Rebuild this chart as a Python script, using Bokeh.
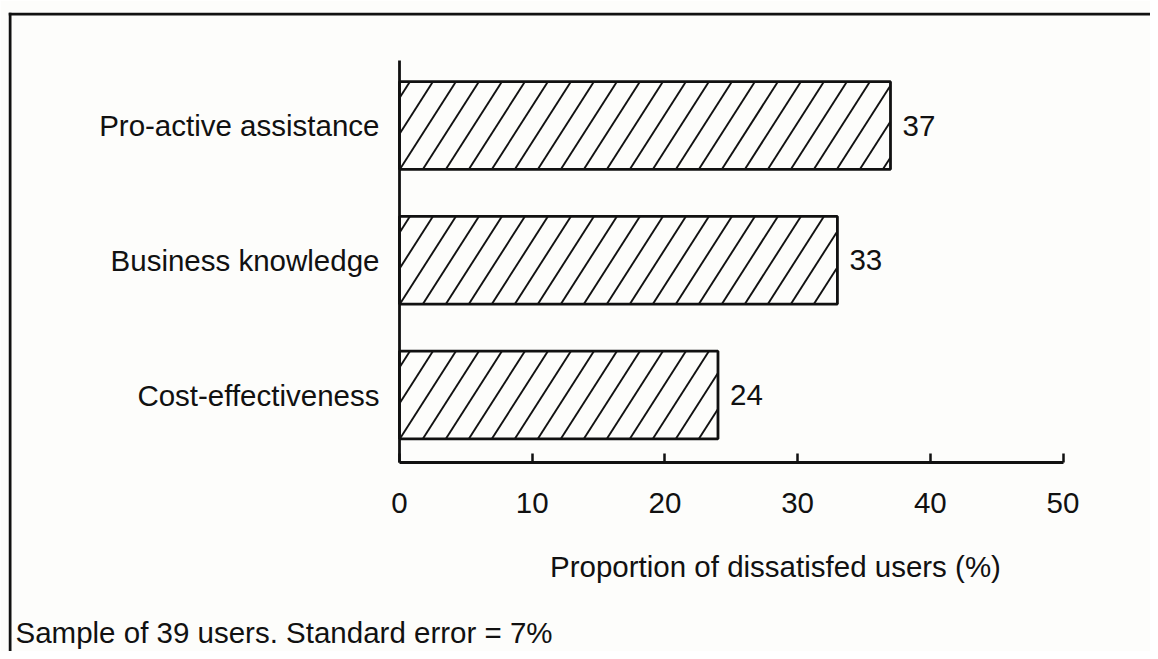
from bokeh.plotting import figure
from bokeh.models import (Range1d, LinearAxis, FixedTicker, Span, Label,
                          ColumnDataSource)
from bokeh.core.properties import value
from bokeh.embed import file_html
from bokeh.resources import INLINE

# ---- data ----
categories = ["Cost-effectiveness", "Business knowledge", "Pro-active assistance"]
values = [24, 33, 37]
x_ticks = [0, 10, 20, 30, 40, 50]
x_title = "Proportion of dissatisfed users (%)"
footnote = "Sample of 39 users. Standard error = 7%"

# ---- layout constants ----
W, H = 1150, 651
FRAME_L, FRAME_T = 8, 12   # frame offset inside canvas (border lines there)
X0_PX = 399.0      # canvas x of value 0
XS = 13.27         # px per unit along x
Y0_PX = 394.5      # canvas y (from top) of first category
YS = 134.75        # px per category step
BAR_H = 0.65
FONT_NAME = "Liberation Sans"
FONT = value(FONT_NAME)
FS = "29.5px"
INK = "#111111"
BG = "#fdfdfb"

x_range = Range1d(-(X0_PX - FRAME_L) / XS, (W - X0_PX) / XS)
y_range = Range1d(-(H - Y0_PX) / YS, (Y0_PX - FRAME_T) / YS)

p = figure(width=W, height=H, x_range=x_range, y_range=y_range,
           output_backend="svg", toolbar_location=None,
           x_axis_location=None, y_axis_location=None,
           min_border=0, min_border_left=FRAME_L, min_border_right=0,
           min_border_top=FRAME_T, min_border_bottom=0,
           background_fill_color=BG, border_fill_color=BG,
           outline_line_color=None)
p.grid.visible = False

idx = list(range(len(categories)))
src = ColumnDataSource(dict(y=idx, right=values, cat=categories,
                            lab=[str(v) for v in values]))

p.hbar(y="y", left=0, right="right", height=BAR_H, source=src,
       fill_color=BG, line_color=None)

# steep "/" hatching, derived from each bar's extent
STEP_PX, RISE = 23.0, 36.0 / 23.0     # horizontal spacing, slope (px)
hx0, hy0, hx1, hy1 = [], [], [], []
for yc, v in zip(idx, values):
    wb = v * XS                    # bar width in px
    hb = BAR_H * YS                # bar height in px
    d = hb / RISE                  # horizontal run of one full line
    yb = yc - BAR_H / 2
    u = -d + STEP_PX * 0.45
    while u < wb:
        ax, ay = u, 0.0
        bx, by = u + d, hb
        if ax < 0:
            ay, ax = -ax * RISE, 0.0
        if bx > wb:
            by, bx = (wb - u) * RISE, wb
        hx0.append(ax / XS); hy0.append(yb + ay / YS)
        hx1.append(bx / XS); hy1.append(yb + by / YS)
        u += STEP_PX
p.segment(x0=hx0, y0=hy0, x1=hx1, y1=hy1, line_color=INK, line_width=1.9)

p.hbar(y="y", left=0, right="right", height=BAR_H, source=src,
       fill_color=None, line_color=INK, line_width=2.8)

p.text(x="right", y="y", text="lab", source=src, x_offset=12,
       text_baseline="middle", text_align="left", text_font=FONT,
       text_font_size=FS, text_color=INK)

# x axis (value axis) placed inside the frame
xaxis = LinearAxis(fixed_location=-0.5, bounds=(0, 50),
                   ticker=FixedTicker(ticks=x_ticks),
                   major_tick_in=9, major_tick_out=0,
                   minor_tick_line_color=None,
                   axis_line_width=2.8, axis_line_color=INK,
                   major_tick_line_width=2.5, major_tick_line_color=INK,
                   major_label_standoff=31,
                   major_label_text_font=FONT_NAME,
                   major_label_text_font_size=FS,
                   major_label_text_color=INK)
p.add_layout(xaxis, "below")

# y axis (categories)
yaxis = LinearAxis(fixed_location=0, bounds=(-0.5, 2.48),
                   ticker=FixedTicker(ticks=idx),
                   major_label_overrides={i: c for i, c in zip(idx, categories)},
                   major_tick_in=0, major_tick_out=0,
                   major_tick_line_color=None, minor_tick_line_color=None,
                   axis_line_width=2.8, axis_line_color=INK,
                   major_label_standoff=20,
                   major_label_text_font=FONT_NAME,
                   major_label_text_font_size=FS,
                   major_label_text_color=INK)
p.add_layout(yaxis, "left")

# axis title and footnote (screen units relative to the frame)
p.add_layout(Label(x=775 - FRAME_L, y=H - 566, x_units="screen", y_units="screen",
                   text=x_title, text_align="center", text_baseline="middle",
                   text_font=FONT_NAME, text_font_size=FS, text_color=INK))
p.add_layout(Label(x=15 - FRAME_L, y=H - 632, x_units="screen", y_units="screen",
                   text=footnote, text_align="left", text_baseline="middle",
                   text_font=FONT_NAME, text_font_size=FS, text_color=INK))

# frame lines (top and left)
p.add_layout(Span(location=y_range.end - 1.5 / YS, dimension="width",
                  line_color=INK, line_width=3))
p.add_layout(Span(location=x_range.start + 1.5 / XS, dimension="height",
                  line_color=INK, line_width=3))

open("out.html", "w").write(file_html(p, INLINE))
